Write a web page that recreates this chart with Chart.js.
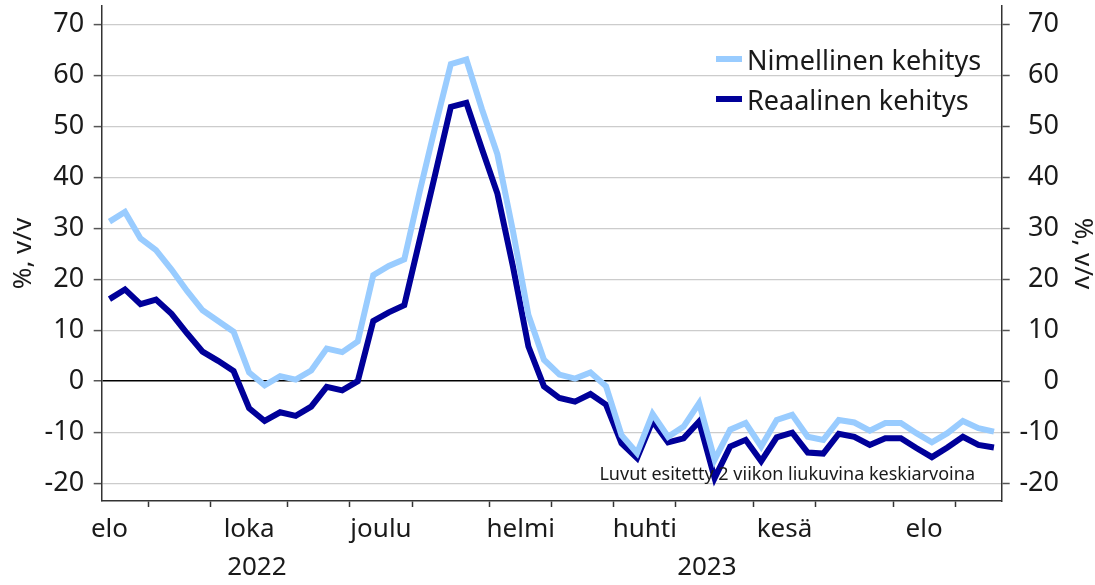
<!DOCTYPE html>
<html>
<head>
<meta charset="utf-8">
<script src="https://cdn.jsdelivr.net/npm/chart.js@4.4.1/dist/chart.umd.min.js"></script>
<style>
  html, body { margin: 0; padding: 0; background: #ffffff; }
  #wrap { position: relative; width: 1095px; height: 585px; font-family: 'Noto Sans', sans-serif; color: #1a1a1a; }
  #chart { position: absolute; left: 0; top: 0; }
  #legend { position: absolute; left: 716px; top: 39px; }
  .item { display: flex; align-items: center; height: 40px; font-size: 27px; line-height: 27px; white-space: nowrap; }
  .sw { width: 26px; height: 6px; margin-right: 5px; }
  #note { position: absolute; right: 120px; top: 464px; font-size: 18px; line-height: 18px; white-space: nowrap; }
</style>
</head>
<body>
<div id="wrap">
  <canvas id="chart" width="1095" height="585"></canvas>
  <div id="legend"></div>
  <div id="note"></div>
</div>
<script>
// ---- data (weekly, 2-week moving averages, Aug 2022 - Sep 2023) ----
const seriesNames = ['Nimellinen kehitys', 'Reaalinen kehitys'];
const seriesColors = ['#99ccff', '#000099'];

const nominal = [
  31.3, 33.2, 28.0, 25.7, 21.9, 17.7, 13.9, 11.8, 9.7, 1.7,
  -0.8, 1.0, 0.3, 2.1, 6.4, 5.7, 7.8, 20.8, 22.6, 23.9,
  37.3, 50.0, 62.2, 63.1, 53.4, 44.5, 29.5, 13.0, 4.2, 1.3,
  0.5, 1.7, -1.0, -10.6, -14.1, -6.4, -10.9, -8.9, -4.3, -15.4,
  -9.5, -8.2, -12.8, -7.6, -6.6, -10.9, -11.5, -7.6, -8.1, -9.7,
  -8.2, -8.2, -10.2, -12.0, -10.2, -7.8, -9.2, -9.9
];
const real = [
  16.1, 18.0, 15.1, 16.0, 13.2, 9.4, 5.8, 4.0, 2.0, -5.3,
  -7.8, -6.1, -6.8, -5.0, -1.1, -1.8, 0.0, 11.8, 13.5, 14.9,
  27.8, 40.7, 53.8, 54.6, 45.6, 36.8, 22.5, 6.8, -1.0, -3.3,
  -4.0, -2.5, -4.6, -12.2, -15.1, -7.8, -12.0, -11.2, -7.9, -19.0,
  -12.8, -11.5, -15.7, -11.0, -10.1, -14.0, -14.2, -10.3, -10.9, -12.5,
  -11.2, -11.2, -13.1, -14.9, -13.0, -10.9, -12.5, -13.0
];

// month boundaries (between weeks) and month label positions (week index)
const monthBoundaries = [2.5, 6.5, 11.5, 15.5, 19.5, 24.5, 28.5, 32.5, 36.5, 41.5, 45.5, 50.5, 54.5];
const monthLabels = ['elo', 'loka', 'joulu', 'helmi', 'huhti', 'kesä', 'elo'];
const monthLabelPos = [0, 9, 17.5, 26.5, 34.5, 43.5, 52.5];
const yearLabels = ['2022', '2023'];
const yearLabelPos = [9.5, 38.5];

const yTickValues = [-20, -10, 0, 10, 20, 30, 40, 50, 60, 70];
const axisTitle = '%, v/v';
const noteText = 'Luvut esitetty 2 viikon liukuvina keskiarvoina';

// ---- build ----
const FONT = "'Noto Sans', sans-serif";
const TXT = '#1a1a1a';

const xTicks = [];
monthBoundaries.forEach(v => xTicks.push({ value: v, label: '', mark: true }));
monthLabelPos.forEach((v, i) => xTicks.push({ value: v, label: monthLabels[i], mark: false }));
yearLabelPos.forEach((v, i) => xTicks.push({ value: v, label: ['', yearLabels[i]], mark: false }));
xTicks.sort((a, b) => a.value - b.value);
const xTickByValue = new Map(xTicks.map(t => [t.value, t]));

const yMin = -23.5, yMax = 73.6;

const noPad = s => { s.paddingTop = 0; s.paddingBottom = 0; s.paddingLeft = 0; s.paddingRight = 0; };

const yTicksOpt = { font: { family: FONT, size: 27 }, color: TXT, padding: 9.5, callback: v => String(v) };
const titleOpt = { display: true, text: axisTitle, color: TXT, font: { family: FONT, size: 26, lineHeight: 1 } };

new Chart(document.getElementById('chart'), {
  type: 'line',
  data: {
    datasets: [0, 1].map(k => ({
      label: seriesNames[k],
      data: (k === 0 ? nominal : real).map((v, i) => ({ x: i, y: v })),
      borderColor: seriesColors[k],
      backgroundColor: seriesColors[k],
      borderWidth: 6,
      pointRadius: 0,
      tension: 0,
      borderJoinStyle: 'miter',
      yAxisID: 'y'
    }))
  },
  options: {
    responsive: false,
    animation: false,
    devicePixelRatio: 1,
    layout: { padding: { top: 6, left: 0, right: 0, bottom: 0 } },
    plugins: { legend: { display: false }, tooltip: { enabled: false } },
    scales: {
      x: {
        type: 'linear', position: 'bottom', min: -0.5, max: 57.5,
        afterBuildTicks: s => { s.ticks = xTicks.map(t => ({ value: t.value })); },
        ticks: {
          autoSkip: false, maxRotation: 0, minRotation: 0, padding: 4,
          font: { family: FONT, size: 26, lineHeight: 1.46 }, color: TXT,
          callback: v => (xTickByValue.get(v) || { label: '' }).label
        },
        grid: {
          drawOnChartArea: false, tickLength: 6, tickWidth: 1.5,
          tickColor: c => (c.tick && xTickByValue.get(c.tick.value) && xTickByValue.get(c.tick.value).mark) ? '#333333' : 'rgba(0,0,0,0)'
        },
        border: { color: '#333333', width: 1.5 },
        afterFit: s => { s.height = 84; noPad(s); }
      },
      y: {
        position: 'left', min: yMin, max: yMax,
        afterBuildTicks: s => { s.ticks = yTickValues.map(v => ({ value: v })); },
        ticks: yTicksOpt,
        grid: {
          drawOnChartArea: true, tickLength: 8, tickWidth: 1.5, tickColor: '#555555',
          color: c => (c.tick && c.tick.value === 0) ? '#000000' : '#cccccc',
          lineWidth: c => (c.tick && c.tick.value === 0) ? 1.5 : 1.2
        },
        border: { color: '#333333', width: 1.5 },
        title: Object.assign({}, titleOpt, { padding: { top: 11, bottom: 0 } }),
        afterFit: s => { s.width = 101.7; noPad(s); }
      },
      y2: {
        position: 'right', min: yMin, max: yMax,
        afterBuildTicks: s => { s.ticks = yTickValues.map(v => ({ value: v })); },
        ticks: Object.assign({}, yTicksOpt, { crossAlign: 'far' }),
        grid: { drawOnChartArea: false, tickLength: 8, tickWidth: 1.5, tickColor: '#555555' },
        border: { color: '#333333', width: 1.5 },
        afterFit: s => { s.width = 57.3; noPad(s); }
      },
      y3: {
        position: 'right', min: yMin, max: yMax,
        afterBuildTicks: s => { s.ticks = yTickValues.map(v => ({ value: v })); },
        ticks: { display: false },
        grid: { display: false, drawTicks: false },
        border: { display: false },
        title: Object.assign({}, titleOpt, { padding: { top: 0, bottom: 0 } }),
        afterFit: s => { s.width = 36; noPad(s); }
      }
    }
  }
});

// legend and note as real text
const leg = document.getElementById('legend');
seriesNames.forEach((n, k) => {
  const it = document.createElement('div');
  it.className = 'item';
  const sw = document.createElement('span');
  sw.className = 'sw';
  sw.style.background = seriesColors[k];
  const tx = document.createElement('span');
  tx.textContent = n;
  it.appendChild(sw); it.appendChild(tx);
  leg.appendChild(it);
});
document.getElementById('note').textContent = noteText;
</script>
</body>
</html>
